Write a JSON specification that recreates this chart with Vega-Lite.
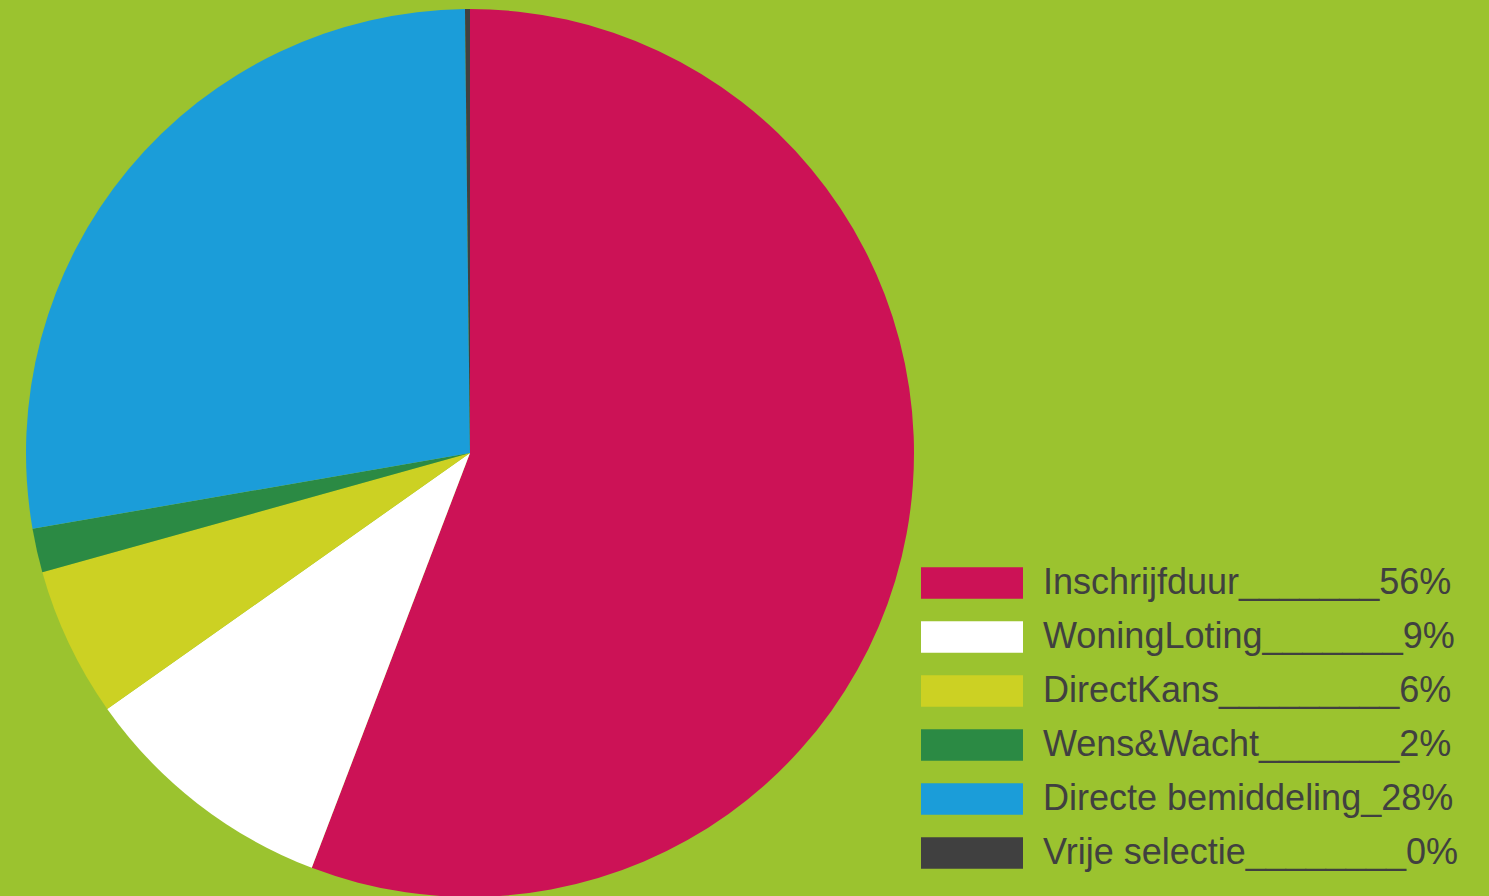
{
  "$schema": "https://vega.github.io/schema/vega-lite/v6.json",
  "width": 940,
  "height": 886,
  "autosize": {"type": "none"},
  "padding": {"left": 0, "top": 10, "right": 549, "bottom": 0},
  "background": "#9BC32F",
  "config": {"view": {"stroke": null}},
  "data": {
    "values": [
      {"cat": "Inschrijfduur_______56%", "value": 55.8, "order": 1},
      {"cat": "WoningLoting_______9%", "value": 9.42, "order": 2},
      {"cat": "DirectKans_________6%", "value": 5.45, "order": 3},
      {"cat": "Wens&Wacht_______2%", "value": 1.6, "order": 4},
      {"cat": "Directe bemiddeling_28%", "value": 27.55, "order": 5},
      {"cat": "Vrije selectie________0%", "value": 0.18, "order": 6}
    ]
  },
  "mark": {"type": "arc", "outerRadius": 444, "strokeWidth": 0},
  "encoding": {
    "theta": {"field": "value", "type": "quantitative", "stack": true},
    "order": {"field": "order", "type": "quantitative"},
    "color": {
      "field": "cat",
      "type": "nominal",
      "scale": {
        "domain": ["Inschrijfduur_______56%", "WoningLoting_______9%", "DirectKans_________6%", "Wens&Wacht_______2%", "Directe bemiddeling_28%", "Vrije selectie________0%"],
        "range": ["#CC1256", "#FFFFFF", "#CCD123", "#2B8A44", "#1B9DD9", "#404040"]
      },
      "legend": {
        "title": null,
        "orient": "none",
        "legendX": 921,
        "legendY": 553,
        "padding": 0,
        "symbolType": "M-1,-0.31H1V0.31H-1Z",
        "symbolSize": 10404,
        "symbolStrokeWidth": 0,
        "symbolOpacity": 1,
        "clipHeight": 40,
        "rowPadding": 14,
        "labelFont": "Liberation Sans",
        "labelFontSize": 36,
        "labelColor": "#404040",
        "labelOffset": 20,
        "labelLimit": 0
      }
    }
  }
}
